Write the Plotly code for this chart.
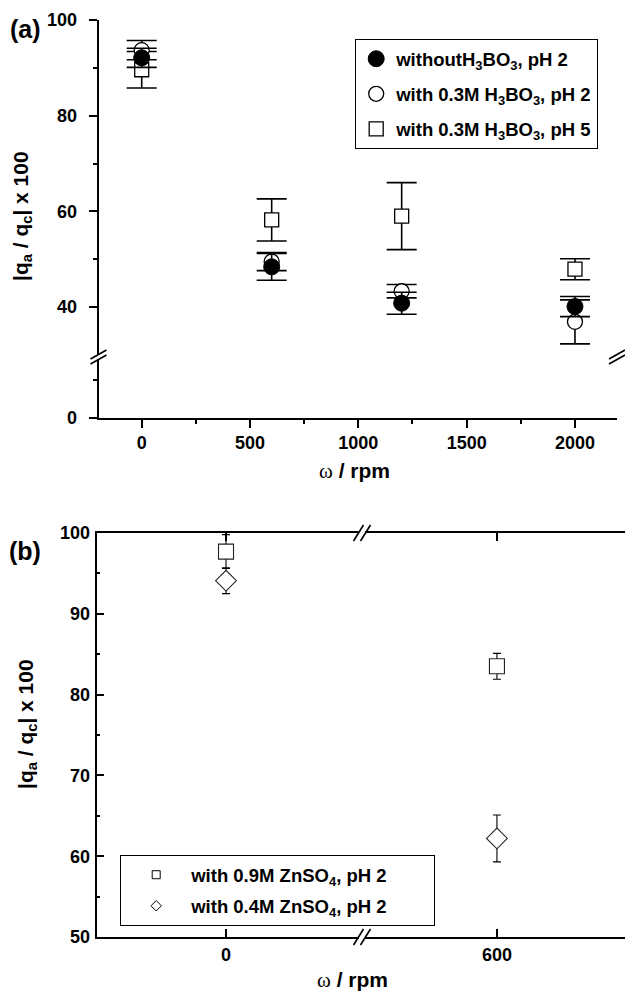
import plotly.graph_objects as go

# ---------------- data ----------------
# panel (a)
rpm_a = [0, 600, 1200, 2000]
without_h3bo3_ph2 = [92.1, 48.4, 40.8, 40.1]
without_h3bo3_ph2_err = [2.0, 2.8, 2.3, 2.1]
with_h3bo3_ph2 = [93.7, 49.5, 43.3, 36.9]
with_h3bo3_ph2_err = [2.0, 1.9, 1.4, 4.6]
with_h3bo3_ph5 = [89.6, 58.2, 59.0, 47.9]
with_h3bo3_ph5_err = [3.8, 4.4, 7.0, 2.2]

# panel (b)
rpm_b = [0, 600]
znso4_09 = [97.7, 83.5]
znso4_09_err = [2.1, 1.6]
znso4_04 = [94.1, 62.2]
znso4_04_err = [1.6, 2.9]

names_a = ["withoutH<sub>3</sub>BO<sub>3</sub>, pH 2",
           "with 0.3M H<sub>3</sub>BO<sub>3</sub>, pH 2",
           "with 0.3M H<sub>3</sub>BO<sub>3</sub>, pH 5"]
names_b = ["with 0.9M ZnSO<sub>4</sub>, pH 2" + "&nbsp;" * 8,
           "with 0.4M ZnSO<sub>4</sub>, pH 2" + "&nbsp;" * 8]

# ---------------- geometry helpers ----------------
W, H = 625, 994
def fx(p):
    return p / W
def fy(p):
    return 1 - p / H

FONT = "Liberation Sans, Arial, sans-serif"
BLACK = "black"
LW = 1.6

# panel (a) frame (pixels)
A_L, A_R, A_T, A_B, A_BRK = 98.5, 617, 20, 418, 357
# panel (b) frame (pixels)
B_L, B_R, B_T, B_B, B_BRK = 96.5, 625, 533, 937, 362

fig = go.Figure()

# ---------------- panel (a) traces ----------------
def err(arr, th=1.6, w=15):
    return dict(type="data", array=arr, visible=True, color=BLACK, thickness=th, width=w)

fig.add_trace(go.Scatter(
    x=rpm_a, y=with_h3bo3_ph5, error_y=err(with_h3bo3_ph5_err), mode="markers",
    name=names_a[2], legend="legend", legendrank=3, legendgroup="a3",
    marker=dict(symbol="square", size=14, color="white", line=dict(color=BLACK, width=1.3)),
    xaxis="x", yaxis="y"))
fig.add_trace(go.Scatter(
    x=rpm_a, y=with_h3bo3_ph2, error_y=err(with_h3bo3_ph2_err), mode="markers",
    name=names_a[1], legend="legend", legendrank=2, legendgroup="a2",
    marker=dict(symbol="circle", size=15, color="white", line=dict(color=BLACK, width=1.3)),
    xaxis="x", yaxis="y"))
fig.add_trace(go.Scatter(
    x=rpm_a, y=without_h3bo3_ph2, error_y=err(without_h3bo3_ph2_err), mode="markers",
    name=names_a[0], legend="legend", legendrank=1, legendgroup="a1",
    marker=dict(symbol="circle", size=16, color=BLACK, line=dict(color=BLACK, width=1)),
    xaxis="x", yaxis="y"))
# empty trace so that the lower (below-break) y segment gets its own subplot
fig.add_trace(go.Scatter(x=[None], y=[None], mode="markers", showlegend=False,
                         hoverinfo="skip", xaxis="x", yaxis="y2"))

# ---------------- panel (b) traces (broken x axis: two segments) ----------------
seg_axes = ["x3", "x4"]
for i, xa in enumerate(seg_axes):
    fig.add_trace(go.Scatter(
        x=[rpm_b[i]], y=[znso4_09[i]], error_y=err([znso4_09_err[i]], 1.1, 4),
        mode="markers", showlegend=False,
        marker=dict(symbol="square", size=15, color="white", line=dict(color="#222", width=1.1)),
        xaxis=xa, yaxis="y5"))
    fig.add_trace(go.Scatter(
        x=[rpm_b[i]], y=[znso4_04[i]], error_y=err([znso4_04_err[i]], 1.1, 4),
        mode="markers", showlegend=False,
        marker=dict(symbol="diamond", size=16, color="white", line=dict(color="#222", width=1.1)),
        xaxis=xa, yaxis="y5"))

# legend keys for panel (b) (small symbols as in the original legend)
fig.add_trace(go.Scatter(x=[None], y=[None], mode="markers", name=names_b[0],
                         legend="legend2", legendgroup="b1", legendrank=1,
                         marker=dict(symbol="square", size=8, color="white", line=dict(color=BLACK, width=1)),
                         xaxis="x3", yaxis="y5"))
fig.add_trace(go.Scatter(x=[None], y=[None], mode="markers", name=names_b[1],
                         legend="legend2", legendgroup="b2", legendrank=2,
                         marker=dict(symbol="diamond", size=8, color="white", line=dict(color=BLACK, width=1)),
                         xaxis="x3", yaxis="y5"))

tickfont = dict(family=FONT, size=18, color=BLACK, weight="bold")

common = dict(showline=True, linecolor=BLACK, linewidth=LW, tickcolor=BLACK, tickwidth=LW,
              showgrid=False, zeroline=False, automargin=False, tickfont=tickfont, fixedrange=True)

# ---------------- panel (a) axes ----------------
xr_a = [-199.4, 2194]
ya_up = [29.55, 100]
ya_lo = [0, 16]
xt_a = [0, 500, 1000, 1500, 2000]
xm_a = [250, 750, 1250, 1750]

fig.update_layout(
    xaxis=dict(domain=[fx(A_L), fx(A_R)], anchor="y2", range=xr_a, ticks="outside", ticklen=8,
               tickvals=xt_a, ticklabelstandoff=0,
               minor=dict(tickvals=xm_a, ticks="outside", ticklen=4, tickcolor=BLACK, tickwidth=LW), **common),
    xaxis2=dict(overlaying="x", side="top", anchor="free", position=fy(A_T), range=xr_a,
                ticks="inside", ticklen=8, tickvals=xt_a, showticklabels=False,
                minor=dict(tickvals=xm_a, ticks="inside", ticklen=4, tickcolor=BLACK, tickwidth=LW), **common),
    yaxis=dict(domain=[fy(A_BRK), fy(A_T)], anchor="x", range=ya_up, ticks="outside", ticklen=8,
               tickvals=[40, 60, 80, 100], ticklabelstandoff=8,
               minor=dict(tickvals=[50, 70, 90], ticks="outside", ticklen=4, tickcolor=BLACK, tickwidth=LW), **common),
    yaxis2=dict(domain=[fy(A_B), fy(A_BRK)], anchor="x", range=ya_lo, ticks="outside", ticklen=8,
                tickvals=[0], ticklabelstandoff=8,
                minor=dict(tickvals=[10], ticks="outside", ticklen=4, tickcolor=BLACK, tickwidth=LW), **common),
    yaxis3=dict(overlaying="y", side="right", anchor="free", position=fx(A_R), range=ya_up,
                ticks="inside", ticklen=8, tickvals=[40, 60, 80, 100], showticklabels=False,
                minor=dict(tickvals=[50, 70, 90], ticks="inside", ticklen=4, tickcolor=BLACK, tickwidth=LW), **common),
    yaxis4=dict(overlaying="y2", side="right", anchor="free", position=fx(A_R), range=ya_lo,
                ticks="inside", ticklen=8, tickvals=[0], showticklabels=False,
                minor=dict(tickvals=[10], ticks="inside", ticklen=4, tickcolor=BLACK, tickwidth=LW), **common),
)

# ---------------- panel (b) axes ----------------
yr_b = [50, 100]
yt_b = [50, 60, 70, 80, 90, 100]
ym_b = [55, 65, 75, 85, 95]
fig.update_layout(
    xaxis3=dict(domain=[fx(B_L), fx(B_BRK)], anchor="y5", range=[-100, 105], ticks="inside", ticklen=8,
                tickvals=[rpm_b[0]], mirror="ticks", ticklabelstandoff=1, **common),
    xaxis4=dict(domain=[fx(B_BRK), fx(B_R)], anchor="y5", range=[502, 693], ticks="inside", ticklen=8,
                tickvals=[rpm_b[1]], mirror="ticks", ticklabelstandoff=1, **common),
    yaxis5=dict(domain=[fy(B_B), fy(B_T)], anchor="x3", range=yr_b, ticks="inside", ticklen=8,
                tickvals=yt_b, ticklabelstandoff=1,
                minor=dict(tickvals=ym_b, ticks="inside", ticklen=4, tickcolor=BLACK, tickwidth=LW), **common),
)
_c6 = dict(common)
_c6["showline"] = False
fig.update_layout(
    yaxis6=dict(overlaying="y5", side="right", anchor="free", position=1.0, range=yr_b,
                ticks="inside", ticklen=7, tickvals=yt_b, showticklabels=False,
                minor=dict(tickvals=ym_b, ticks="inside", ticklen=3, tickcolor=BLACK, tickwidth=LW), **_c6),
)

# ---------------- axis break marks ----------------
shapes = []
def seg(x0, y0, x1, y1, color=BLACK, width=LW):
    shapes.append(dict(type="line", xref="paper", yref="paper", x0=fx(x0), y0=fy(y0),
                       x1=fx(x1), y1=fy(y1), line=dict(color=color, width=width), layer="above"))

def brk_v(xp, yp):
    seg(xp, yp - 2.5, xp, yp + 2.5, "white", 4)
    for dy in (-2.5, 2.5):
        seg(xp - 8, yp + dy + 4.5, xp + 8, yp + dy - 4.5)

def brk_h(xp, yp):
    seg(xp - 3, yp, xp + 3, yp, "white", 4)
    for dx in (-3.5, 3.5):
        seg(xp + dx - 5, yp + 8, xp + dx + 5, yp - 8)

brk_v(A_L, A_BRK)
brk_v(A_R, A_BRK)
brk_h(B_BRK, B_B)
brk_h(B_BRK, B_T)

# ---------------- titles ----------------
TFONT = dict(family=FONT, size=21, color=BLACK, weight="bold")
omega = "<span style='font-family:Liberation Serif, Times New Roman, serif;font-weight:normal'>ω</span> / rpm"
ytitle = "|q<sub>a</sub> / q<sub>c</sub>| x 100"
ann = [
    dict(text="(a)", x=fx(8), y=fy(29), xanchor="left", yanchor="middle",
         font=dict(family=FONT, size=25, color=BLACK, weight="bold")),
    dict(text="(b)", x=fx(7), y=fy(551), xanchor="left", yanchor="middle",
         font=dict(family=FONT, size=25, color=BLACK, weight="bold")),
    dict(text=ytitle, x=fx(22), y=fy(216), textangle=-90, xanchor="center", yanchor="middle", font=TFONT),
    dict(text=ytitle, x=fx(27), y=fy(724), textangle=-90, xanchor="center", yanchor="middle", font=TFONT),
    dict(text=omega, x=fx(355), y=fy(471), xanchor="center", yanchor="middle", font=TFONT),
    dict(text=omega, x=fx(352), y=fy(980), xanchor="center", yanchor="middle", font=TFONT),
]
for a in ann:
    a.update(xref="paper", yref="paper", showarrow=False)

LFONT = dict(family=FONT, size=18.5, color=BLACK, weight="bold")
fig.update_layout(
    width=W, height=H, margin=dict(l=0, r=0, t=0, b=0),
    paper_bgcolor="white", plot_bgcolor="white",
    showlegend=True,
    legend=dict(x=fx(355), y=fy(39), xanchor="left", yanchor="top", bgcolor="white",
                bordercolor=BLACK, borderwidth=1.2, font=LFONT, tracegroupgap=8,
                traceorder="grouped", itemclick=False, itemdoubleclick=False),
    legend2=dict(x=fx(120), y=fy(855), xanchor="left", yanchor="top", bgcolor="white",
                 bordercolor=BLACK, borderwidth=1.2, font=LFONT, tracegroupgap=4,
                 traceorder="grouped", itemwidth=60, itemclick=False, itemdoubleclick=False),
    shapes=shapes, annotations=ann,
)

fig.write_html("out.html", config={"displayModeBar": False})
